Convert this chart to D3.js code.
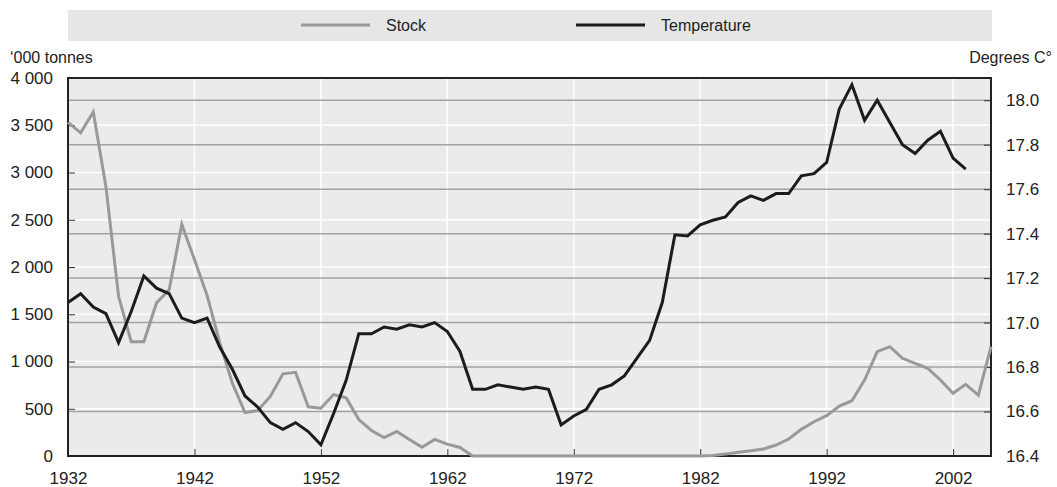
<!DOCTYPE html>
<html>
<head>
<meta charset="utf-8">
<script src="https://cdn.jsdelivr.net/npm/d3@7"></script>
<style>
  html, body { margin: 0; padding: 0; background: #fff; }
  svg { display: block; font-family: "Liberation Sans", Arial, Helvetica, sans-serif; }
</style>
</head>
<body>
<svg id="chart" width="1057" height="487"></svg>
<script>
// ---- data ----
const stockYears = d3.range(1932, 2006);
const stockValues = [
  3530, 3420, 3640, 2850, 1690, 1210, 1210, 1620, 1760, 2450,
  2080, 1700, 1200, 770, 460, 480, 630, 870, 885, 520,
  505, 650, 615, 385, 270, 195, 260, 175, 92, 176,
  125, 90, 0, 0, 0, 0, 0, 0, 0, 0,
  0, 0, 0, 0, 0, 0, 0, 0, 0, 0,
  0, 5, 20, 40, 55, 75, 116, 180, 282, 363,
  427, 529, 585, 804, 1104, 1157, 1034, 981, 928, 804,
  663, 758, 645, 1157
];
const tempYears = d3.range(1932, 2004);
const tempValues = [
  17.09, 17.13, 17.07, 17.04, 16.91, 17.05, 17.21, 17.155, 17.13, 17.02,
  17.00, 17.02, 16.89, 16.79, 16.67, 16.62, 16.55, 16.52, 16.55, 16.51,
  16.45, 16.59, 16.74, 16.95, 16.95, 16.98, 16.97, 16.99, 16.98, 17.00,
  16.96, 16.87, 16.70, 16.70, 16.72, 16.71, 16.70, 16.71, 16.70, 16.54,
  16.58, 16.61, 16.70, 16.72, 16.76, 16.84, 16.92, 17.09, 17.395, 17.39,
  17.44, 17.46, 17.475, 17.54, 17.57, 17.55, 17.58, 17.58, 17.66, 17.67,
  17.72, 17.96, 18.07, 17.91, 18.00, 17.90, 17.80, 17.76, 17.82, 17.86,
  17.74, 17.69
];
const leftTicks = d3.range(0, 4001, 500);
const rightTicks = [16.4, 16.6, 16.8, 17.0, 17.2, 17.4, 17.6, 17.8, 18.0];
const xTicks = [1932, 1942, 1952, 1962, 1972, 1982, 1992, 2002];
const seriesNames = ["Stock", "Temperature"];
const leftTitle = "\u2018000 tonnes";
const rightTitle = "Degrees C\u00B0";

// ---- layout ----
const L = 68, R = 991, T = 78, B = 456;
const svg = d3.select("#chart");

const x = d3.scaleLinear().domain([1932, 2005]).range([L, R]);
const yL = d3.scaleLinear().domain([0, 4000]).range([B, T]);
const yR = d3.scaleLinear().domain([16.4, 18.1]).range([B, T]);

const fmtL = v => d3.format(",")(v).replace(/,/g, " ");
const fmtR = d3.format(".1f");

// legend
svg.append("rect").attr("x", 68).attr("y", 10).attr("width", 924).attr("height", 31).attr("fill", "#e6e6e6");
const legendItems = [
  {name: seriesNames[0], color: "#999999", x1: 301, x2: 370, tx: 386},
  {name: seriesNames[1], color: "#1c1c1c", x1: 576, x2: 645, tx: 661}
];
legendItems.forEach(d => {
  svg.append("line").attr("x1", d.x1).attr("x2", d.x2).attr("y1", 25).attr("y2", 25)
    .attr("stroke", d.color).attr("stroke-width", 3);
  svg.append("text").attr("x", d.tx).attr("y", 31).attr("font-size", 16).attr("fill", "#222").text(d.name);
});

// axis titles
svg.append("text").attr("x", 10).attr("y", 63).attr("font-size", 16).attr("fill", "#222").text(leftTitle);
svg.append("text").attr("x", 1052).attr("y", 63).attr("font-size", 16).attr("fill", "#222")
  .attr("text-anchor", "end").text(rightTitle);

// plot background
svg.append("rect").attr("x", L).attr("y", T).attr("width", R - L).attr("height", B - T).attr("fill", "#ebebeb");

// white gridlines (left ticks)
svg.append("g").selectAll("line").data(leftTicks.filter(v => v > 0 && v < 4000)).join("line")
  .attr("x1", L).attr("x2", R).attr("y1", d => yL(d)).attr("y2", d => yL(d))
  .attr("stroke", "#ffffff").attr("stroke-width", 1.5);
// vertical white gridlines
svg.append("g").selectAll("line").data(xTicks.filter(v => v > 1932)).join("line")
  .attr("x1", d => x(d)).attr("x2", d => x(d)).attr("y1", T).attr("y2", B)
  .attr("stroke", "#ffffff").attr("stroke-width", 1.5);
// gray gridlines (right ticks)
svg.append("g").selectAll("line").data(rightTicks.filter(v => v > 16.4)).join("line")
  .attr("x1", L).attr("x2", R).attr("y1", d => yR(d)).attr("y2", d => yR(d))
  .attr("stroke", "#a3a3a3").attr("stroke-width", 1.5);

// axes
const axL = svg.append("g").attr("transform", `translate(${L},0)`)
  .call(d3.axisLeft(yL).tickValues(leftTicks).tickFormat(fmtL).tickSizeInner(-7).tickSizeOuter(0).tickPadding(15));
const axR = svg.append("g").attr("transform", `translate(${R},0)`)
  .call(d3.axisRight(yR).tickValues(rightTicks).tickFormat(fmtR).tickSizeInner(-7).tickSizeOuter(0).tickPadding(15));
const axB = svg.append("g").attr("transform", `translate(0,${B})`)
  .call(d3.axisBottom(x).tickValues(xTicks).tickFormat(d3.format("d")).tickSizeInner(-7).tickSizeOuter(0).tickPadding(16));
[axL, axR, axB].forEach(g => {
  g.select(".domain").remove();
  g.selectAll(".tick line").attr("stroke", "#333").attr("stroke-width", 1);
  g.selectAll(".tick text").attr("font-size", 17).attr("fill", "#222")
    .attr("font-family", '"Liberation Sans", Arial, sans-serif');
});

// frame
svg.append("rect").attr("x", L).attr("y", T).attr("width", R - L).attr("height", B - T)
  .attr("fill", "none").attr("stroke", "#222").attr("stroke-width", 2);

// lines
const stockData = stockYears.map((yr, i) => ({yr, v: stockValues[i]}));
const tempData = tempYears.map((yr, i) => ({yr, v: tempValues[i]}));
svg.append("path").datum(stockData)
  .attr("d", d3.line().x(d => x(d.yr)).y(d => yL(d.v)))
  .attr("fill", "none").attr("stroke", "#999999").attr("stroke-width", 3).attr("stroke-linejoin", "miter");
svg.append("path").datum(tempData)
  .attr("d", d3.line().x(d => x(d.yr)).y(d => yR(d.v)))
  .attr("fill", "none").attr("stroke", "#1c1c1c").attr("stroke-width", 3).attr("stroke-linejoin", "miter");
</script>
</body>
</html>
